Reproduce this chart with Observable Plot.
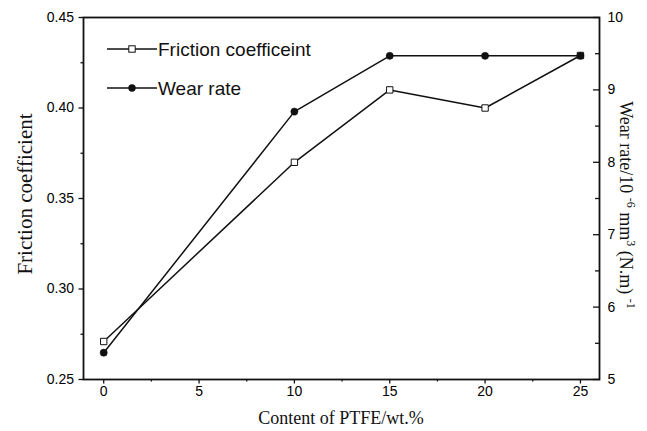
<!DOCTYPE html>
<html><head><meta charset="utf-8">
<script src="https://cdn.jsdelivr.net/npm/d3@7"></script>
<script src="https://cdn.jsdelivr.net/npm/@observablehq/plot@0.6"></script>
<style>body{margin:0;background:#fff} #chart svg{display:block}</style>
</head><body><div id="chart"></div>
<script>
const content = [0, 10, 15, 20, 25];
const friction = [0.271, 0.370, 0.410, 0.400, 0.429];
const wearRate = [5.37, 8.70, 9.47, 9.47, 9.47];
const xTicks = [0, 5, 10, 15, 20, 25];
const xMinor = [2.5, 7.5, 12.5, 17.5, 22.5];
const leftTicks = [0.25, 0.30, 0.35, 0.40, 0.45];
const leftMinor = [0.275, 0.325, 0.375, 0.425];
const rightTicks = [5, 6, 7, 8, 9, 10];
const rightMinor = [5.5, 6.5, 7.5, 8.5, 9.5];
const seriesNames = ["Friction coefficeint", "Wear rate"];
const xTitle = "Content of PTFE/wt.%";
const yTitle = "Friction coefficient";

const fDomain = [0.25, 0.45], wDomain = [5, 10];
const w2f = d3.scaleLinear(wDomain, fDomain);
const f2w = w2f.invert;

const fData = content.map((c, i) => ({x: c, y: friction[i]}));
const wData = content.map((c, i) => ({x: c, y: w2f(wearRate[i])}));
const sans = "Liberation Sans, Arial, sans-serif";
const serif = "Liberation Serif, Times New Roman, serif";

const chart = Plot.plot({
  width: 647, height: 431,
  marginLeft: 83, marginRight: 48, marginTop: 17, marginBottom: 52,
  x: {domain: [-1.06, 26.0]},
  y: {domain: fDomain},
  style: {background: "white", color: "black"},
  marks: [
    Plot.axisX(xTicks, {tickSize: 4.5, tickPadding: 2.5, fontSize: 14, fontFamily: sans, label: null, strokeWidth: 1.3, stroke: "#111"}),
    Plot.axisX(xMinor, {tickSize: 2.5, tickFormat: () => "", label: null, strokeWidth: 1.3, stroke: "#111"}),
    Plot.axisY(leftTicks, {tickSize: 4.5, tickPadding: 5, tickFormat: d3.format(".2f"), fontSize: 14, fontFamily: sans, label: null, strokeWidth: 1.3, stroke: "#111"}),
    Plot.axisY(leftMinor, {tickSize: 2.5, tickFormat: () => "", label: null, strokeWidth: 1.3, stroke: "#111"}),
    Plot.axisY(rightTicks.map(w2f), {anchor: "right", tickSize: 7, dx: -7, tickFormat: () => "", label: null, strokeWidth: 1.3, stroke: "#111"}),
    Plot.axisY(rightMinor.map(w2f), {anchor: "right", tickSize: 5, dx: -5, tickFormat: () => "", label: null, strokeWidth: 1.3, stroke: "#111"}),
    Plot.axisY(rightTicks.map(w2f), {anchor: "right", tickSize: 0, tickPadding: 8, tickFormat: d => String(Math.round(f2w(d))), fontSize: 14, fontFamily: sans, label: null}),
    Plot.frame({stroke: "#111", strokeWidth: 1.8}),
    Plot.line(fData, {x: "x", y: "y", stroke: "#111", strokeWidth: 1.5}),
    Plot.line(wData, {x: "x", y: "y", stroke: "#111", strokeWidth: 1.5}),
    Plot.dot(fData, {x: "x", y: "y", symbol: "square", r: 3.6, fill: "white", stroke: "#111", strokeWidth: 1}),
    Plot.dot(wData, {x: "x", y: "y", r: 3.6, fill: "#111", stroke: "#111", strokeWidth: 0.5})
  ]
});
document.getElementById("chart").appendChild(chart);

const svg = d3.select(chart);
// legend
const legendRows = [{name: seriesNames[0], y: 49, sym: "square"}, {name: seriesNames[1], y: 88, sym: "circle"}];
legendRows.forEach(r => {
  const g = svg.append("g");
  g.append("line").attr("x1", 107).attr("x2", 157).attr("y1", r.y).attr("y2", r.y).attr("stroke", "#111").attr("stroke-width", 1.5);
  if (r.sym === "square") {
    g.append("rect").attr("x", 132 - 3.2).attr("y", r.y - 3.2).attr("width", 6.4).attr("height", 6.4).attr("fill", "white").attr("stroke", "#111").attr("stroke-width", 1);
  } else {
    g.append("circle").attr("cx", 132).attr("cy", r.y).attr("r", 3.7).attr("fill", "#111");
  }
  g.append("text").attr("x", 158).attr("y", r.y).attr("dy", "0.36em").attr("text-anchor", "start")
    .attr("font-family", sans).attr("font-size", 19).attr("fill", "#111").text(r.name);
});
// axis titles
svg.append("text").attr("transform", "translate(341,424)").attr("text-anchor", "middle")
  .attr("font-family", serif).attr("font-size", 18).attr("fill", "#111").text(xTitle);
svg.append("text").attr("transform", "translate(32,194) rotate(-90)").attr("text-anchor", "middle")
  .attr("font-family", serif).attr("font-size", 21).attr("fill", "#111").text(yTitle);
const rt = svg.append("text").attr("transform", "translate(620,205) rotate(90)").attr("text-anchor", "middle")
  .attr("font-family", serif).attr("font-size", 18).attr("fill", "#111");
const parts = [["Wear rate/10 ", false], ["-6", true], [" mm", false], ["3", true], [" (N.m) ", false], ["-1", true]];
parts.forEach(([t, sup]) => {
  const ts = rt.append("tspan").text(t);
  if (sup) ts.attr("font-size", 12).attr("baseline-shift", "super");
});
</script>
</body></html>
